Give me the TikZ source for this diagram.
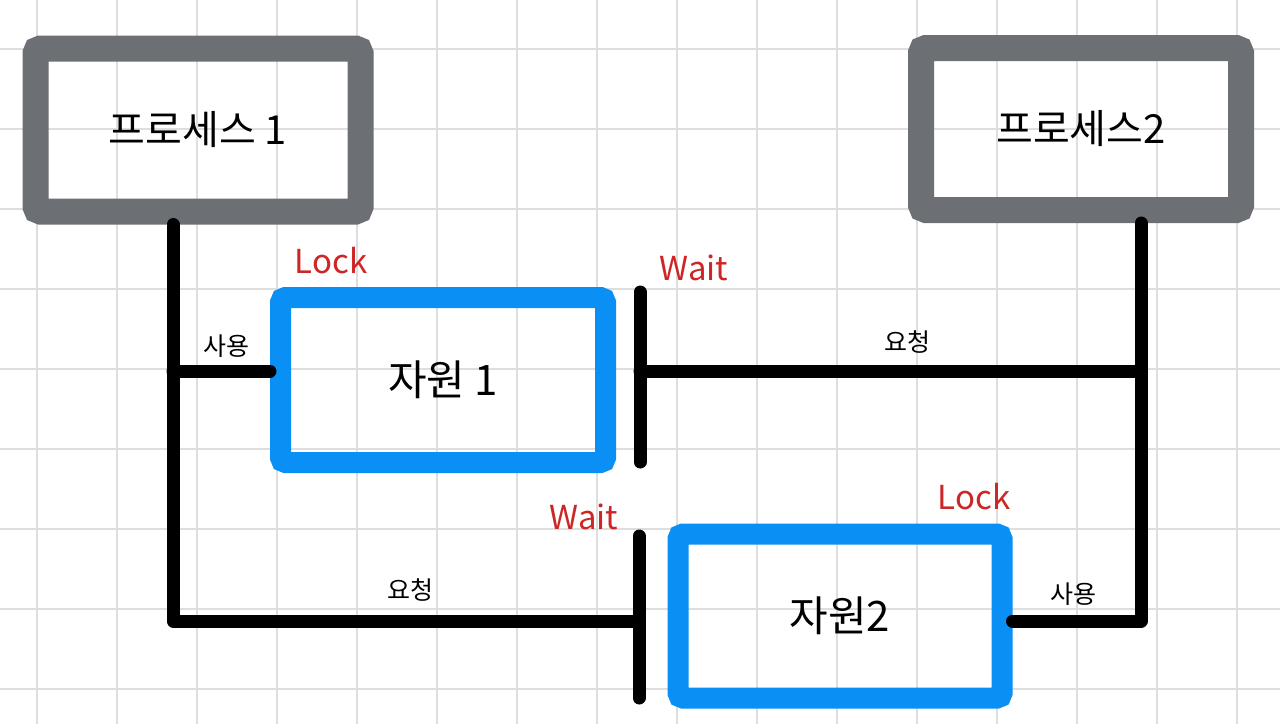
\documentclass[tikz,border=0pt]{standalone}
\usepackage{fontspec}
\setmainfont{Noto Sans CJK KR}
\usetikzlibrary{positioning, calc}
\definecolor{procgray}{RGB}{108,112,117}
\definecolor{resblue}{RGB}{10,143,245}
\definecolor{lockred}{RGB}{205,38,38}
\definecolor{gridgray}{RGB}{222,222,222}
\tikzset{
  proc/.style={draw=procgray, line width=26pt, rounded corners=5pt, minimum width=325pt, minimum height=163pt, font=\fontsize{40}{46}\selectfont},
  res/.style={draw=resblue, line width=21pt, rounded corners=5pt, minimum width=325pt, minimum height=165pt, font=\fontsize{42}{48}\selectfont},
  wire/.style={line width=13pt, line cap=round, line join=round},
  small/.style={font=\fontsize{25}{29}\selectfont},
  tag/.style={text=lockred, font=\fontsize{33}{38}\selectfont},
}

\begin{document}
\begin{tikzpicture}[x=1pt, y=-1pt]
			\useasboundingbox (0,0) rectangle (1280,724);
			\fill[white] (0,0) rectangle (1280,724);
			\foreach \gx in {37,117,...,1237} \draw[gridgray, line width=1.5pt] (\gx,0) -- (\gx,724);
			\foreach \gy in {49,129,...,689} \draw[gridgray, line width=1.5pt] (0,\gy) -- (1280,\gy);
			\node[proc] (p1) at (198,130) {프로세스 1};
			\node[proc, minimum width=320pt, minimum height=162pt] (p2) at (1081,129) {프로세스2};
			\node[res] (r1) at (443,380) {자원 1};
			\node[res, minimum width=324pt, minimum height=164pt] (r2) at (840,616) {자원2};
			\coordinate (j1) at (173,371);
			\coordinate (c1) at (173,621);
			\coordinate (j2) at (1141,371);
			\coordinate (c2) at (1141,621);
			\coordinate (w1t) at (640,292);
			\coordinate (w1b) at (640,462);
			\coordinate (w2t) at (639,536);
			\coordinate (w2b) at (639,698);
			\draw[wire] (p1.south -| j1) -- (c1) -- (c1 -| w2t);
			\draw[wire] (j1) -- (j1 -| r1.west);
			\draw[wire] (p2.south -| j2) -- (c2) -- (c2 -| r2.east);
			\draw[wire] (w1t |- j2) -- (j2);
			\draw[wire] (w1t) -- (w1b);
			\draw[wire] (w2t) -- (w2b);
			\node[small] (use1) at (226,346) {사용};
			\node[small] (req1) at (907,342) {요청};
			\node[small] (req2) at (410,590) {요청};
			\node[small] (use2) at (1073,594) {사용};
			\node[tag] (lock1) at (331,261) {Lock};
			\node[tag] (wait1) at (694,268) {Wait};
			\node[tag] (wait2) at (584,517) {Wait};
			\node[tag] (lock2) at (974,497) {Lock};
		\end{tikzpicture}
\end{document}
